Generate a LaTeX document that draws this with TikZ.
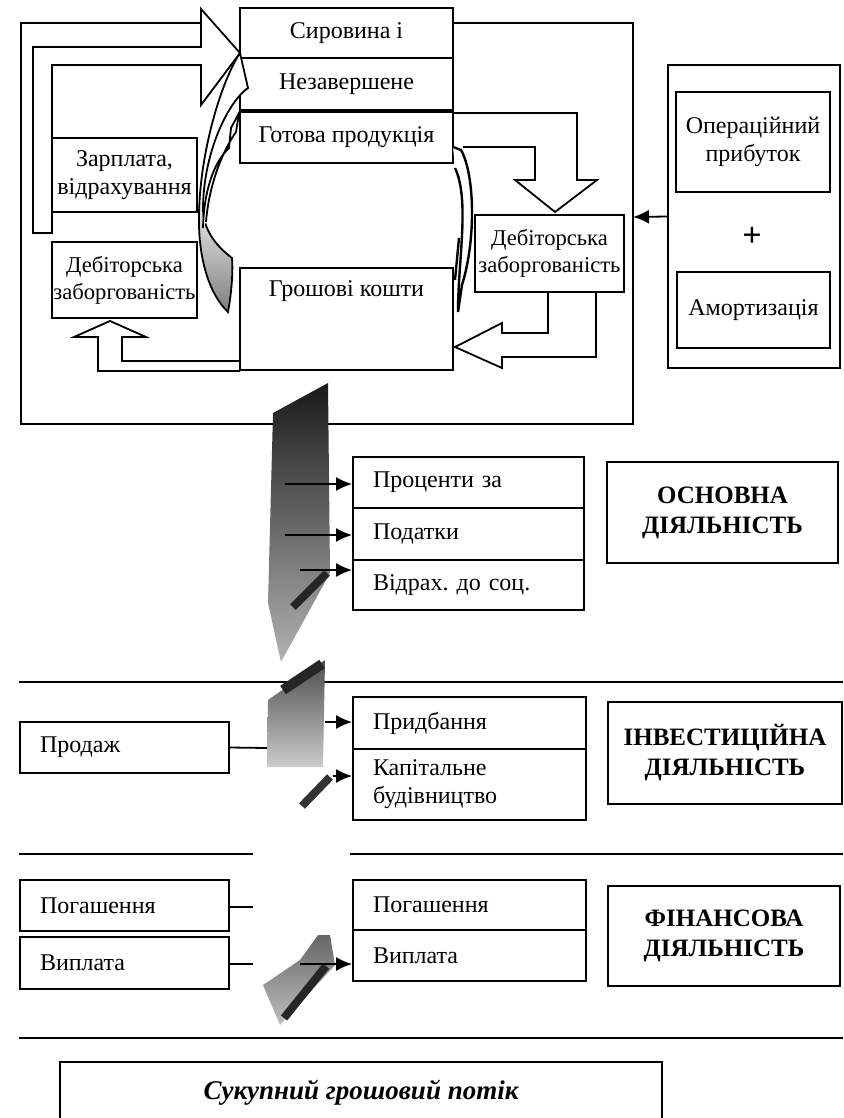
\documentclass[tikz,border=0pt]{standalone}
\usepackage{fontspec}
\setmainfont{Liberation Serif}
\usetikzlibrary{arrows.meta}
\frenchspacing
\begin{document}
\begin{tikzpicture}[>={Latex[length=8pt,width=7pt]},x=0.5pt,y=-0.5pt,line width=0.9pt,
	box/.style={draw,inner sep=0pt,align=center,font=\fontsize{12}{14}\selectfont},
	sbox/.style={box,font=\fontsize{11.3}{13.5}\selectfont},
	lbox/.style={box,align=left,inner xsep=10pt},
	bbox/.style={box,font=\fontsize{12.5}{15}\bfseries\selectfont}]
	\useasboundingbox (0,0) rectangle (844,1118);
	\clip (0,0) rectangle (844,1118);
	% operating activity
	\draw (201,23)--(21,23)--(21,424)--(633,424)--(633,23)--(453,23);
	\node[box,minimum width=106.5pt,minimum height=25pt] (syr) at (346.5,33) {Сировина і};
	\node[box,minimum width=106.5pt,minimum height=26pt] (nezav) at (346.5,84) {Незавершене};
	\node[box,minimum width=106.5pt,minimum height=25.5pt] (gotova) at (346.5,137.5) {Готова продукція};
	\node[box,minimum width=106.5pt,minimum height=51pt,
		label={[anchor=center,yshift=-12pt,font=\fontsize{12}{14}\selectfont]north:Грошові кошти}] (gk) at (346.5,319) {};
	\node[box,minimum width=72.5pt,minimum height=37pt] (zarp) at (124.5,175) {Зарплата,\\відрахування};
	\node[sbox,minimum width=72.5pt,minimum height=38pt] (debl) at (124.5,280) {Дебіторська\\заборгованість};
	\node[sbox,minimum width=74.5pt,minimum height=38.5pt] (debr) at (549.5,253.5) {Дебіторська\\заборгованість};
	\node[box,minimum width=86pt,minimum height=151.5pt] (opbox) at (754,216.5) {};
	\node[box,minimum width=77pt,minimum height=50pt] (oper) at (753,142) {Операційний\\прибуток};
	\node[font=\fontsize{17}{17}\bfseries\selectfont] (plus) at (752,237) {+};
	\node[box,minimum width=76.5pt,minimum height=38pt] (amort) at (753.5,310) {Амортизація};
	\coordinate (frameE) at (633,217);
	\draw[->] (opbox.west)--(frameE);
	% hollow arrows
	\draw[fill=white] (33,233)--(33,47)--(201,47)--(201,9)--(240,53)--(201,105)--(201,65)--(52,65)--(52,233)--cycle;
	\draw (240,361)--(122,361)--(122,337)--(146,337)--(110,321)--(74,337)--(98,337)--(98,371)--(240,371);
	\draw (463,147)--(535,147)--(535,180)--(515,180)--(555,212)--(597,180)--(577,180)--(577,113)--(453,113);
	\draw (548,292)--(548,333)--(502,333)--(502,323)--(455,347)--(502,368)--(502,357)--(596,357)--(596,292);
	% curved arrows
	\shade[draw,top color=white,bottom color=black!50,middle color=white] (240,53) .. controls (222,80) and (200,150) .. (199,215)
		.. controls (198,260) and (210,295) .. (228,312) .. controls (232,290) and (233,270) .. (232,258)
		.. controls (215,245) and (204,230) .. (203,210) .. controls (203,150) and (230,100) .. (248,88) -- cycle;
	\draw[fill=white] (203,228) .. controls (204,190) and (214,162) .. (229,148) -- (231,128) -- (239,113)
		-- (236,132) .. controls (222,152) and (209,185) .. (206,222);
	\draw[fill=white,line width=1.2pt] (453,147)--(461,150) .. controls (475,175) and (476,240) .. (462,285) -- (458,312)
		.. controls (458,260) and (470,200) .. (455,168);
	\draw[line width=1.2pt] (459,238)--(455,280);
	% flow column
	\shade[top color=black!90,bottom color=black!30] (328,383)--(273,413)--(268,603)--(281,662)--(330,573)--cycle;
	\draw[line width=4pt,black!85] (293,607)--(327,573);
	\node[lbox,text width=95.5pt,minimum height=25.5pt] (proc) at (468.5,482.5) {Проценти за};
	\node[lbox,text width=95.5pt,minimum height=26pt] (podat) at (468.5,534) {Податки};
	\node[lbox,text width=95.5pt,minimum height=25pt] (vidr) at (468.5,585) {Відрах. до соц.};
	\node[bbox,minimum width=115.5pt,minimum height=50.5pt] (osn) at (722.5,512.5) {ОСНОВНА\\ДІЯЛЬНІСТЬ};
	\coordinate (c1) at (285,484);
	\coordinate (c2) at (285,535);
	\coordinate (c3) at (300,570);
	\draw[->] (c1)--(c1-|proc.west);
	\draw[->] (c2)--(c2-|podat.west);
	\draw[->] (c3)--(c3-|vidr.west);
	% investing activity
	\draw (19,682)--(843,682);
	\shade[top color=black!70,bottom color=black!20] (325,660)--(268,700)--(267,767)--(323,767)--cycle;
	\draw[line width=5pt,black!85] (283,690)--(322,664);
	\draw[line width=4pt,black!80] (302,806)--(330,777);
	\node[lbox,text width=84.5pt,minimum height=25.5pt] (prod) at (124.5,747.5) {Продаж};
	\node[lbox,text width=96.5pt,minimum height=26pt] (pridb) at (469.5,723) {Придбання};
	\node[lbox,text width=96.5pt,minimum height=35.5pt] (kapit) at (469.5,784.5) {Капітальне\\будівництво};
	\node[bbox,minimum width=117pt,minimum height=51pt] (inv) at (725,753) {ІНВЕСТИЦІЙНА\\ДІЯЛЬНІСТЬ};
	\coordinate (c4) at (267,748);
	\coordinate (c5) at (325,722);
	\coordinate (c6) at (333,776);
	\draw (prod.east)--(c4);
	\draw[->] (c5)--(c5-|pridb.west);
	\draw[->] (c6)--(c6-|kapit.west);
	% financing activity
	\draw (19,854)--(253,854);
	\draw (350,854)--(843,854);
	\node[lbox,text width=84.5pt,minimum height=25.5pt] (pogl) at (124.5,905.5) {Погашення};
	\node[lbox,text width=84.5pt,minimum height=26pt] (vypll) at (124.5,963) {Виплата};
	\node[lbox,text width=96.5pt,minimum height=25pt] (pogr) at (469.5,905) {Погашення};
	\node[lbox,text width=96.5pt,minimum height=25.5pt] (vyplr) at (469.5,955.5) {Виплата};
	\node[bbox,minimum width=116pt,minimum height=50pt] (fin) at (724,936) {ФІНАНСОВА\\ДІЯЛЬНІСТЬ};
	\coordinate (c7) at (253,907);
	\coordinate (c8) at (253,964);
	\draw (pogl.east|-c7)--(c7);
	\draw (vypll.east|-c8)--(c8);
	\shade[top color=black!60,bottom color=black!25] (318,935)--(330,935)--(335,965)--(280,1025)--(263,985)--(300,960)--cycle;
	\draw[line width=4pt,black!85] (284,1018)--(326,966);
	\coordinate (c9) at (300,964);
	\draw[->] (c9)--(c9-|vyplr.west);
	% total
	\draw (19,1038)--(843,1038);
	\node[box,minimum width=301pt,minimum height=31pt,font=\fontsize{13.5}{15}\bfseries\itshape\selectfont] (suk) at (361,1093) {Сукупний грошовий потік};
\end{tikzpicture}
\end{document}
